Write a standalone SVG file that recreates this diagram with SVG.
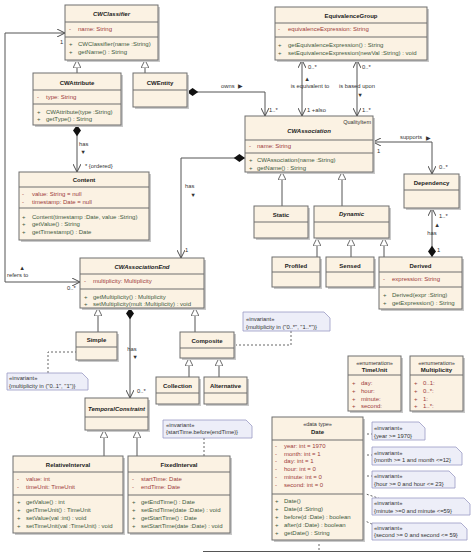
<svg xmlns="http://www.w3.org/2000/svg" width="471" height="553" viewBox="0 0 471 553">
<style>
text{font-family:"Liberation Sans",Arial,sans-serif;font-size:6px;dominant-baseline:central;fill:#333}
.box{fill:#FBF2E3;stroke:#6e6e6e;stroke-width:1}
.sh{fill:#c9c9c9}
.sep{stroke:#6e6e6e;stroke-width:1}
.t{font-weight:bold;text-anchor:middle;fill:#222}
.ti{font-weight:bold;font-style:italic;text-anchor:middle;fill:#222}
.st{text-anchor:middle;fill:#333;font-size:5.5px}
.a{fill:#9b3b3b}
.m{fill:#3e5a3e}
.note{fill:#EDEEF8;stroke:#9a9ac4;stroke-width:0.8}
.nt{fill:#333;font-size:5.8px}
.lbl{fill:#333;font-size:5.8px}
.lc{fill:#333;font-size:5.8px;text-anchor:middle}
.c{fill:none;stroke:#555;stroke-width:1}
.d{fill:none;stroke:#666;stroke-width:1;stroke-dasharray:2,2}
</style>
<defs>
<marker id="open" viewBox="0 0 10 10" refX="10" refY="5" markerWidth="8" markerHeight="8" markerUnits="userSpaceOnUse" orient="auto-start-reverse"><path d="M0,0 L10,5 L0,10" fill="none" stroke="#444" stroke-width="1.2"/></marker>
<marker id="tri" viewBox="0 0 10 10" refX="10" refY="5" markerWidth="8" markerHeight="8" markerUnits="userSpaceOnUse" orient="auto"><path d="M0,0 L10,5 L0,10 z" fill="#fff" stroke="#555" stroke-width="1.1"/></marker>
<marker id="dia" viewBox="0 0 14 10" refX="0" refY="5" markerWidth="13" markerHeight="8" markerUnits="userSpaceOnUse" orient="auto"><path d="M0,5 L7,0 L14,5 L7,10 z" fill="#111"/></marker>
</defs>

<g id="connectors">
<!-- generalizations -->
<line class="c" x1="77" y1="73" x2="77" y2="60" marker-end="url(#tri)"/>
<line class="c" x1="145" y1="73" x2="145" y2="60" marker-end="url(#tri)"/>
<line class="c" x1="282" y1="206" x2="282" y2="172" marker-end="url(#tri)"/>
<line class="c" x1="342" y1="206" x2="342" y2="172" marker-end="url(#tri)"/>
<line class="c" x1="317" y1="257" x2="317" y2="238" marker-end="url(#tri)"/>
<line class="c" x1="351" y1="257" x2="351" y2="238" marker-end="url(#tri)"/>
<line class="c" x1="384" y1="257" x2="384" y2="238" marker-end="url(#tri)"/>
<line class="c" x1="98" y1="332" x2="98" y2="308" marker-end="url(#tri)"/>
<line class="c" x1="195" y1="332" x2="195" y2="308" marker-end="url(#tri)"/>
<line class="c" x1="189" y1="377" x2="189" y2="358" marker-end="url(#tri)"/>
<line class="c" x1="219" y1="377" x2="219" y2="358" marker-end="url(#tri)"/>
<line class="c" x1="104" y1="456" x2="104" y2="430" marker-end="url(#tri)"/>
<line class="c" x1="137" y1="456" x2="137" y2="430" marker-end="url(#tri)"/>
<!-- refers to -->
<polyline class="c" points="65,33 5,33 5,282 80,282" marker-start="url(#open)" marker-end="url(#open)"/>
<text class="lbl" x="60" y="42">1</text>
<text class="lbl" x="67" y="288">0..*</text>
<text class="lbl" x="7" y="275">refers to</text>
<text class="lc" x="22" y="268">▲</text>
<!-- CWAttribute has Content -->
<line class="c" x1="77" y1="125" x2="77" y2="172" marker-start="url(#dia)" marker-end="url(#open)"/>
<text class="lbl" x="79" y="144">has</text>
<text class="lc" x="83" y="152">▼</text>
<text class="lbl" x="85" y="166">* {ordered}</text>
<!-- owns -->
<polyline class="c" points="187,92 265,92 265,116" marker-start="url(#dia)" marker-end="url(#open)"/>
<text class="lbl" x="221" y="86">owns</text>
<text class="lc" x="240" y="86">▶</text>
<text class="lbl" x="269" y="110">1..*</text>
<!-- is equivalent to -->
<line class="c" x1="302" y1="60" x2="302" y2="116" marker-start="url(#open)" marker-end="url(#open)"/>
<text class="lbl" x="308" y="67">0..*</text>
<text class="lc" x="307" y="79">▲</text>
<text class="lc" x="310" y="86">is equivalent to</text>
<text class="lbl" x="307" y="110">1 +also</text>
<!-- is based upon -->
<line class="c" x1="357" y1="60" x2="357" y2="116" marker-start="url(#open)" marker-end="url(#open)"/>
<text class="lbl" x="362" y="67">0..*</text>
<text class="lc" x="357" y="86">is based upon</text>
<text class="lc" x="360" y="95">▼</text>
<text class="lbl" x="362" y="110">1..*</text>
<!-- CWAssociation has CWAssociationEnd -->
<polyline class="c" points="245,158 181,158 181,258" marker-start="url(#dia)" marker-end="url(#open)"/>
<text class="lbl" x="185" y="186">has</text>
<text class="lc" x="193" y="195">▼</text>
<text class="lbl" x="185" y="250">1</text>
<!-- supports -->
<polyline class="c" points="432,174 432,142 373,142" marker-start="url(#open)" marker-end="url(#open)"/>
<text class="lbl" x="400" y="137">supports</text>
<text class="lc" x="428" y="138">▶</text>
<text class="lbl" x="377" y="151">1</text>
<text class="lbl" x="439" y="167">0..*</text>
<!-- Derived has Dependency -->
<line class="c" x1="432" y1="257" x2="432" y2="208" marker-start="url(#dia)" marker-end="url(#open)"/>
<text class="lbl" x="439" y="216">1..*</text>
<text class="lc" x="437" y="225">▲</text>
<text class="lc" x="432" y="233">has</text>
<text class="lbl" x="437" y="250">1</text>
<!-- CWAssociationEnd has TemporalConstraint -->
<line class="c" x1="130" y1="308" x2="130" y2="398" marker-start="url(#dia)" marker-end="url(#open)"/>
<text class="lc" x="132" y="349">has</text>
<text class="lc" x="135" y="357">▼</text>
<text class="lbl" x="137" y="391">0..*</text>
<!-- note links -->
<polyline class="d" points="48,373 48,352 76,352"/>
<polyline class="d" points="291,331 291,345 234,345"/>
<line class="d" x1="204" y1="438" x2="204" y2="456"/>
<line class="d" x1="363" y1="434" x2="372" y2="434"/>
<line class="d" x1="363" y1="455" x2="372" y2="455"/>
<line class="d" x1="363" y1="476" x2="372" y2="476"/>
<line class="d" x1="363" y1="493" x2="381" y2="499"/>
<line class="d" x1="363" y1="520" x2="374" y2="525"/>
<line class="d" x1="319" y1="540" x2="319" y2="552"/>
<line class="c" x1="203" y1="551.5" x2="471" y2="551.5" stroke="#777"/>
</g>

<g id="CWClassifier">
<rect class="sh" x="67" y="7" width="93" height="55"/>
<rect class="box" x="65" y="5" width="93" height="55"/>
<line class="sep" x1="65" y1="22" x2="158" y2="22"/><line class="sep" x1="65" y1="37" x2="158" y2="37"/>
<text class="ti" x="111.5" y="14">CWClassifier</text>
<text class="a" y="29"><tspan x="69">-</tspan><tspan x="78">name:  String</tspan></text>
<text class="m" y="44"><tspan x="69">+</tspan><tspan x="78">CWClassifier(name :String)</tspan></text>
<text class="m" y="52"><tspan x="69">+</tspan><tspan x="78">getName() : String</tspan></text>
</g>

<g id="CWAttribute">
<rect class="sh" x="35" y="75" width="88" height="52"/>
<rect class="box" x="33" y="73" width="88" height="52"/>
<line class="sep" x1="33" y1="90" x2="121" y2="90"/><line class="sep" x1="33" y1="104" x2="121" y2="104"/>
<text class="t" x="77" y="83">CWAttribute</text>
<text class="a" y="97"><tspan x="37">-</tspan><tspan x="46">type:  String</tspan></text>
<text class="m" y="112"><tspan x="37">+</tspan><tspan x="46">CWAttribute(type :String)</tspan></text>
<text class="m" y="119"><tspan x="37">+</tspan><tspan x="46">getType() : String</tspan></text>
</g>

<g id="CWEntity">
<rect class="sh" x="135" y="75" width="54" height="34"/>
<rect class="box" x="133" y="73" width="54" height="34"/>
<line class="sep" x1="133" y1="90" x2="187" y2="90"/>
<text class="t" x="160" y="83">CWEntity</text>
</g>

<g id="EquivalenceGroup">
<rect class="sh" x="277" y="9" width="152" height="53"/>
<rect class="box" x="275" y="7" width="152" height="53"/>
<line class="sep" x1="275" y1="23" x2="427" y2="23"/><line class="sep" x1="275" y1="37" x2="427" y2="37"/>
<text class="t" x="351" y="16">EquivalenceGroup</text>
<text class="a" y="29"><tspan x="278">-</tspan><tspan x="288">equivalenceExpression:  String</tspan></text>
<text class="m" y="45"><tspan x="278">+</tspan><tspan x="288">getEquivalenceExpression() : String</tspan></text>
<text class="m" y="53"><tspan x="278">+</tspan><tspan x="288">setEquivalenceExpression(newVal :String) : void</tspan></text>
</g>

<g id="Content">
<rect class="sh" x="21" y="174" width="130" height="68"/>
<rect class="box" x="19" y="172" width="130" height="68"/>
<line class="sep" x1="19" y1="187" x2="149" y2="187"/><line class="sep" x1="19" y1="208" x2="149" y2="208"/>
<text class="t" x="84" y="180">Content</text>
<text class="a" y="194"><tspan x="22">-</tspan><tspan x="32">value:  String = null</tspan></text>
<text class="a" y="202"><tspan x="22">-</tspan><tspan x="32">timestamp:  Date = null</tspan></text>
<text class="m" y="217"><tspan x="22">+</tspan><tspan x="32">Content(timestamp :Date, value :String)</tspan></text>
<text class="m" y="224"><tspan x="22">+</tspan><tspan x="32">getValue() : String</tspan></text>
<text class="m" y="232"><tspan x="22">+</tspan><tspan x="32">getTimestamp() : Date</tspan></text>
</g>

<g id="CWAssociation">
<rect class="sh" x="247" y="118" width="128" height="56"/>
<rect class="box" x="245" y="116" width="128" height="56"/>
<line class="sep" x1="245" y1="140" x2="373" y2="140"/><line class="sep" x1="245" y1="153" x2="373" y2="153"/>
<text x="371" y="121.5" style="text-anchor:end;font-size:5.5px">QualityItem</text>
<text class="ti" x="309" y="131">CWAssociation</text>
<text class="a" y="146"><tspan x="249">-</tspan><tspan x="257">name:  String</tspan></text>
<text class="m" y="160"><tspan x="249">+</tspan><tspan x="257">CWAssociation(name :String)</tspan></text>
<text class="m" y="168"><tspan x="249">+</tspan><tspan x="257">getName() : String</tspan></text>
</g>

<g id="Dependency">
<rect class="sh" x="406" y="176" width="55" height="34"/>
<rect class="box" x="404" y="174" width="55" height="34"/>
<line class="sep" x1="404" y1="190" x2="459" y2="190"/>
<text class="t" x="431.5" y="183">Dependency</text>
</g>

<g id="Static">
<rect class="sh" x="256" y="208" width="54" height="32"/>
<rect class="box" x="254" y="206" width="54" height="32"/>
<line class="sep" x1="254" y1="222" x2="308" y2="222"/>
<text class="t" x="281" y="215">Static</text>
</g>

<g id="Dynamic">
<rect class="sh" x="316" y="208" width="75" height="32"/>
<rect class="box" x="314" y="206" width="75" height="32"/>
<line class="sep" x1="314" y1="222" x2="389" y2="222"/>
<text class="ti" x="351.5" y="214">Dynamic</text>
</g>

<g id="Profiled">
<rect class="sh" x="274" y="259" width="48" height="30"/>
<rect class="box" x="272" y="257" width="48" height="30"/>
<line class="sep" x1="272" y1="272" x2="320" y2="272"/>
<text class="t" x="296" y="266">Profiled</text>
</g>

<g id="Sensed">
<rect class="sh" x="328" y="259" width="48" height="30"/>
<rect class="box" x="326" y="257" width="48" height="30"/>
<line class="sep" x1="326" y1="272" x2="374" y2="272"/>
<text class="t" x="350" y="266">Sensed</text>
</g>

<g id="Derived">
<rect class="sh" x="381" y="259" width="83" height="52"/>
<rect class="box" x="379" y="257" width="83" height="52"/>
<line class="sep" x1="379" y1="272" x2="462" y2="272"/><line class="sep" x1="379" y1="287" x2="462" y2="287"/>
<text class="t" x="420.5" y="266">Derived</text>
<text class="a" y="279"><tspan x="383">-</tspan><tspan x="392">expression:  String</tspan></text>
<text class="m" y="295"><tspan x="383">+</tspan><tspan x="392">Derived(expr :String)</tspan></text>
<text class="m" y="303"><tspan x="383">+</tspan><tspan x="392">getExpression() : String</tspan></text>
</g>

<g id="CWAssociationEnd">
<rect class="sh" x="82" y="260" width="124" height="50"/>
<rect class="box" x="80" y="258" width="124" height="50"/>
<line class="sep" x1="80" y1="274" x2="204" y2="274"/><line class="sep" x1="80" y1="289" x2="204" y2="289"/>
<text class="ti" x="142" y="267">CWAssociationEnd</text>
<text class="a" y="281"><tspan x="84">-</tspan><tspan x="93">multiplicity:  Multiplicity</tspan></text>
<text class="m" y="297"><tspan x="84">+</tspan><tspan x="93">getMultiplicity() : Multiplicity</tspan></text>
<text class="m" y="304"><tspan x="84">+</tspan><tspan x="93">setMultiplicity(mult :Multiplicity) : void</tspan></text>
</g>

<g id="Simple">
<rect class="sh" x="78" y="334" width="41" height="28"/>
<rect class="box" x="76" y="332" width="41" height="28"/>
<line class="sep" x1="76" y1="347" x2="117" y2="347"/>
<text class="t" x="96.5" y="340">Simple</text>
</g>

<g id="Composite">
<rect class="sh" x="182" y="334" width="54" height="26"/>
<rect class="box" x="180" y="332" width="54" height="26"/>
<line class="sep" x1="180" y1="348" x2="234" y2="348"/>
<text class="t" x="207" y="340.5">Composite</text>
</g>

<g id="Collection">
<rect class="sh" x="158" y="379" width="43" height="27"/>
<rect class="box" x="156" y="377" width="43" height="27"/>
<line class="sep" x1="156" y1="393" x2="199" y2="393"/>
<text class="t" x="177.5" y="386">Collection</text>
</g>

<g id="Alternative">
<rect class="sh" x="206" y="379" width="43" height="27"/>
<rect class="box" x="204" y="377" width="43" height="27"/>
<line class="sep" x1="204" y1="393" x2="247" y2="393"/>
<text class="t" x="225.5" y="386">Alternative</text>
</g>

<g id="TemporalConstraint">
<rect class="sh" x="87" y="400" width="63" height="32"/>
<rect class="box" x="85" y="398" width="63" height="32"/>
<line class="sep" x1="85" y1="417" x2="148" y2="417"/>
<text class="ti" x="116.5" y="409">TemporalConstraint</text>
</g>

<g id="RelativeInterval">
<rect class="sh" x="15" y="458" width="110" height="77"/>
<rect class="box" x="13" y="456" width="110" height="77"/>
<line class="sep" x1="13" y1="472" x2="123" y2="472"/><line class="sep" x1="13" y1="495" x2="123" y2="495"/>
<text class="t" x="68" y="465">RelativeInterval</text>
<text class="a" y="479"><tspan x="17">-</tspan><tspan x="26">value:  int</tspan></text>
<text class="a" y="487"><tspan x="17">-</tspan><tspan x="26">timeUnit:  TimeUnit</tspan></text>
<text class="m" y="502"><tspan x="17">+</tspan><tspan x="26">getValue() : int</tspan></text>
<text class="m" y="510"><tspan x="17">+</tspan><tspan x="26">getTimeUnit() : TimeUnit</tspan></text>
<text class="m" y="518"><tspan x="17">+</tspan><tspan x="26">setValue(val :int) : void</tspan></text>
<text class="m" y="526"><tspan x="17">+</tspan><tspan x="26">setTimeUnit(val :TimeUnit) : void</tspan></text>
</g>

<g id="FixedInterval">
<rect class="sh" x="130" y="458" width="102" height="77"/>
<rect class="box" x="128" y="456" width="102" height="77"/>
<line class="sep" x1="128" y1="472" x2="230" y2="472"/><line class="sep" x1="128" y1="495" x2="230" y2="495"/>
<text class="t" x="179" y="465">FixedInterval</text>
<text class="a" y="479"><tspan x="132">-</tspan><tspan x="141">startTime:  Date</tspan></text>
<text class="a" y="487"><tspan x="132">-</tspan><tspan x="141">endTime:  Date</tspan></text>
<text class="m" y="502"><tspan x="132">+</tspan><tspan x="141">getEndTime() : Date</tspan></text>
<text class="m" y="510"><tspan x="132">+</tspan><tspan x="141">setEndTime(date :Date) : void</tspan></text>
<text class="m" y="518"><tspan x="132">+</tspan><tspan x="141">getStartTime() : Date</tspan></text>
<text class="m" y="526"><tspan x="132">+</tspan><tspan x="141">setStartTime(date :Date) : void</tspan></text>
</g>

<g id="TimeUnit">
<rect class="sh" x="350" y="358" width="53" height="55"/>
<rect class="box" x="348" y="356" width="53" height="55"/>
<line class="sep" x1="348" y1="375" x2="401" y2="375"/>
<text class="st" x="374.5" y="363">«enumeration»</text>
<text class="t" x="374.5" y="370">TimeUnit</text>
<text class="a" y="383"><tspan x="352">+</tspan><tspan x="361">day:</tspan></text>
<text class="a" y="391"><tspan x="352">+</tspan><tspan x="361">hour:</tspan></text>
<text class="a" y="399"><tspan x="352">+</tspan><tspan x="361">minute:</tspan></text>
<text class="a" y="406"><tspan x="352">+</tspan><tspan x="361">second:</tspan></text>
</g>

<g id="Multiplicity">
<rect class="sh" x="412" y="358" width="53" height="55"/>
<rect class="box" x="410" y="356" width="53" height="55"/>
<line class="sep" x1="410" y1="375" x2="463" y2="375"/>
<text class="st" x="436.5" y="363">«enumeration»</text>
<text class="t" x="436.5" y="370">Multiplicity</text>
<text class="a" y="383"><tspan x="414">+</tspan><tspan x="423">0..1:</tspan></text>
<text class="a" y="391"><tspan x="414">+</tspan><tspan x="423">0..*:</tspan></text>
<text class="a" y="399"><tspan x="414">+</tspan><tspan x="423">1:</tspan></text>
<text class="a" y="406"><tspan x="414">+</tspan><tspan x="423">1..*:</tspan></text>
</g>

<g id="Date">
<rect class="sh" x="274" y="419" width="91" height="123"/>
<rect class="box" x="272" y="417" width="91" height="123"/>
<line class="sep" x1="272" y1="440" x2="363" y2="440"/><line class="sep" x1="272" y1="494" x2="363" y2="494"/>
<text class="st" x="317.5" y="424">«data type»</text>
<text class="t" x="317.5" y="432">Date</text>
<text class="a" y="446"><tspan x="275">-</tspan><tspan x="284">year:  int = 1970</tspan></text>
<text class="a" y="454"><tspan x="275">-</tspan><tspan x="284">month:  int = 1</tspan></text>
<text class="a" y="461"><tspan x="275">-</tspan><tspan x="284">day:  int = 1</tspan></text>
<text class="a" y="469"><tspan x="275">-</tspan><tspan x="284">hour:  int = 0</tspan></text>
<text class="a" y="477"><tspan x="275">-</tspan><tspan x="284">minute:  int = 0</tspan></text>
<text class="a" y="485"><tspan x="275">-</tspan><tspan x="284">second:  int = 0</tspan></text>
<text class="m" y="501"><tspan x="275">+</tspan><tspan x="284">Date()</tspan></text>
<text class="m" y="509"><tspan x="275">+</tspan><tspan x="284">Date(d :String)</tspan></text>
<text class="m" y="517"><tspan x="275">+</tspan><tspan x="284">before(d :Date) : boolean</tspan></text>
<text class="m" y="525"><tspan x="275">+</tspan><tspan x="284">after(d :Date) : boolean</tspan></text>
<text class="m" y="533"><tspan x="275">+</tspan><tspan x="284">getDate() : String</tspan></text>
</g>

<g id="noteComposite">
<path class="note" d="M243,312 H324 L330,318 V331 H243 Z"/>
<text class="nt" x="246" y="319">«invariant»</text>
<text class="nt" x="246" y="326.5">{multiplicity in ("0..*", "1..*")}</text>
</g>
<g id="noteSimple">
<path class="note" d="M7,373 H82 L88,379 V390 H7 Z"/>
<text class="nt" x="9" y="378">«invariant»</text>
<text class="nt" x="9" y="385.5">{multiplicity in ("0..1", "1")}</text>
</g>
<g id="noteFixed">
<path class="note" d="M163,420 H246 L252,426 V438 H163 Z"/>
<text class="nt" x="166" y="424.5">«invariant»</text>
<text class="nt" x="166" y="432">{startTime.before(endTime)}</text>
</g>
<g id="noteYear">
<path class="note" d="M372,422 H419 L425,428 V440 H372 Z"/>
<text class="nt" x="374" y="428">«invariant»</text>
<text class="nt" x="374" y="435.5">{year &gt;= 1970}</text>
</g>
<g id="noteMonth">
<path class="note" d="M372,447 H456 L462,453 V465 H372 Z"/>
<text class="nt" x="374" y="452.5">«invariant»</text>
<text class="nt" x="374" y="460">{month &gt;= 1 and month &lt;=12}</text>
</g>
<g id="noteHour">
<path class="note" d="M372,471 H449 L455,477 V488 H372 Z"/>
<text class="nt" x="374" y="476">«invariant»</text>
<text class="nt" x="374" y="483.5">{hour &gt;= 0 and hour &lt;= 23}</text>
</g>
<g id="noteMinute">
<path class="note" d="M372,498 H464 L470,504 V515 H372 Z"/>
<text class="nt" x="374" y="503">«invariant»</text>
<text class="nt" x="374" y="510.5">{minute &gt;=0 and minute &lt;=59}</text>
</g>
<g id="noteSecond">
<path class="note" d="M372,523 H461 L467,529 V540 H372 Z"/>
<text class="nt" x="374" y="527.5">«invariant»</text>
<text class="nt" x="374" y="535">{second &gt;= 0 and second &lt;= 59}</text>
</g>
</svg>
